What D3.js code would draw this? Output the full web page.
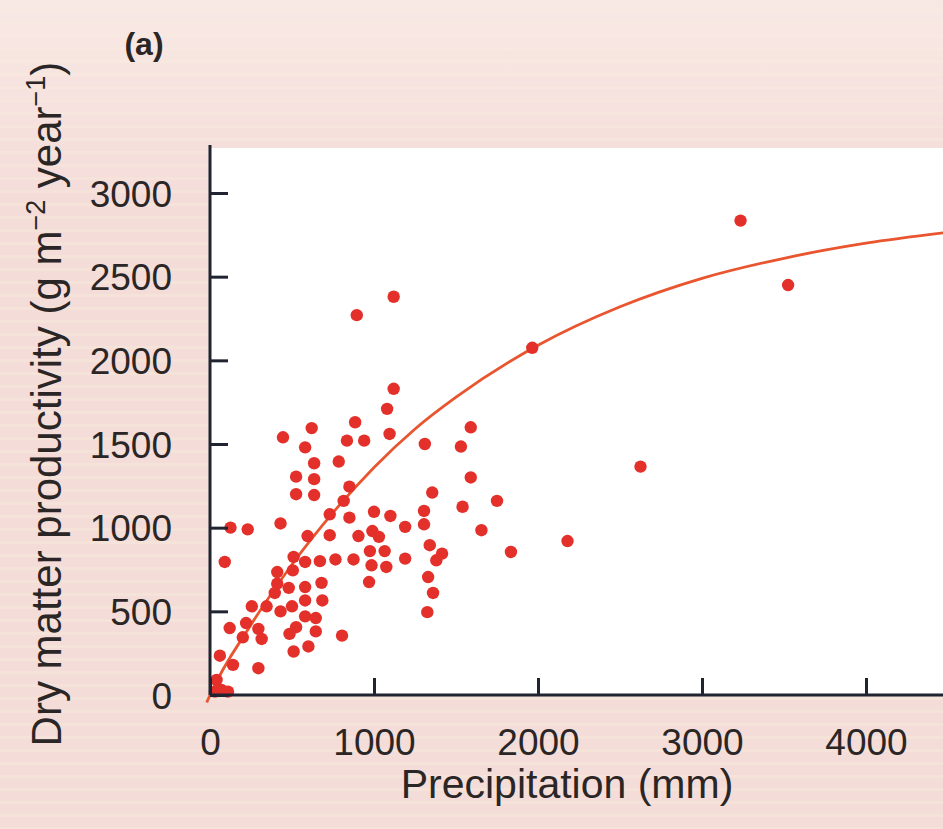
<!DOCTYPE html>
<html>
<head>
<meta charset="utf-8">
<script src="https://cdn.jsdelivr.net/npm/d3@7"></script>
<style>
  body { margin: 0; background: #f5dedb; }
  svg { display: block; }
  text { font-family: "Liberation Sans", Arial, sans-serif; fill: #2b2626; }
</style>
</head>
<body>
<div id="chart"></div>
<script>
// Width and height
var w = 943;
var h = 829;

// data
var precipitation = [1120, 1080, 620, 445, 885, 835, 940, 1095, 1310, 580, 635, 785, 525, 635, 525, 635, 850, 815, 1355,
    125, 230, 430, 730, 850, 1000, 1100, 1190, 1305, 1305, 595, 730, 905, 990, 1030, 1340, 1415, 1380,
    90, 510, 580, 670, 765, 875, 975, 1065, 1190, 985, 1075, 505, 410, 1330, 970, 1360, 1325,
    410, 480, 580, 680, 395, 580, 685, 255, 345, 430, 500, 580, 645, 220, 120, 295, 315, 200,
    485, 525, 645, 805, 510, 600, 60, 140, 295, 40, 70, 110, 30,
    1590, 1530, 1590, 1540, 1750, 1655, 1835, 2180, 2625, 895, 1120, 1965, 3235, 3525];
var productivity = [1830, 1710, 1595, 1540, 1630, 1520, 1520, 1560, 1500, 1480, 1385, 1395, 1305, 1290, 1200, 1195, 1245, 1160, 1210,
    1000, 990, 1025, 1080, 1060, 1095, 1070, 1005, 1100, 1020, 950, 955, 950, 980, 945, 895, 845, 805,
    795, 825, 795, 800, 810, 810, 860, 860, 815, 775, 765, 745, 735, 705, 675, 610, 495,
    665, 640, 645, 670, 610, 565, 565, 530, 530, 500, 530, 470, 460, 430, 400, 395, 335, 345,
    365, 405, 380, 355, 260, 290, 235, 180, 160, 90, 30, 20, 20,
    1600, 1485, 1300, 1125, 1160, 985, 855, 920, 1365, 2270, 2380, 2075, 2835, 2450];

// fitted curve, read at a few places
var curvePrecip = [-20, 0, 250, 500, 750, 1000, 1250, 1500, 2000, 2500, 3000, 3500, 4000, 4500];
var curveProd = [-45, 0, 420, 780, 1090, 1360, 1590, 1780, 2090, 2320, 2490, 2610, 2700, 2765];

var xTicks = [0, 1000, 2000, 3000, 4000];
var yTicks = [0, 500, 1000, 1500, 2000, 2500, 3000];

var x = d3.scaleLinear().domain([0, 4000]).range([210, 866]);
var y = d3.scaleLinear().domain([0, 3000]).range([695, 193]);

var svg = d3.select("#chart")
            .append("svg")
            .attr("width", w)
            .attr("height", h);

var defs = svg.append("defs");

// scanned paper stripes
var pat = defs.append("pattern")
    .attr("id", "stripes")
    .attr("patternUnits", "userSpaceOnUse")
    .attr("width", 40).attr("height", 13);
pat.append("rect").attr("width", 40).attr("height", 13).attr("fill", "#f4dcd9");
pat.append("rect").attr("y", 8).attr("width", 40).attr("height", 3).attr("fill", "#f5e2d9");

var grad = defs.append("linearGradient")
    .attr("id", "topfade")
    .attr("x1", 0).attr("y1", 0).attr("x2", 0).attr("y2", 1);
grad.append("stop").attr("offset", 0).attr("stop-color", "#faeee8").attr("stop-opacity", 0.7);
grad.append("stop").attr("offset", 1).attr("stop-color", "#faeee8").attr("stop-opacity", 0);

svg.append("rect").attr("width", w).attr("height", h).attr("fill", "url(#stripes)");
svg.append("rect").attr("width", w).attr("height", 200).attr("fill", "url(#topfade)");

// white plot area
svg.append("rect")
   .attr("x", x(0))
   .attr("y", 148)
   .attr("width", w - x(0))
   .attr("height", y(0) - 148)
   .attr("fill", "#ffffff");

// curve
var line = d3.line()
    .x(function (d) { return x(d[0]); })
    .y(function (d) { return y(d[1]); })
    .curve(d3.curveMonotoneX);

svg.append("path")
   .datum(d3.zip(curvePrecip, curveProd))
   .attr("d", line)
   .attr("fill", "none")
   .attr("stroke", "#e8552f")
   .attr("stroke-width", 2.8);

// points
svg.selectAll("circle.pt")
   .data(d3.zip(precipitation, productivity))
   .enter()
   .append("circle")
   .attr("class", "pt")
   .attr("cx", function (d) { return x(d[0]); })
   .attr("cy", function (d) { return y(d[1]); })
   .attr("r", 6.2)
   .attr("fill", "#e3302a");

// axes
var fmt = d3.format("d");
var xAxis = d3.axisBottom(x).tickValues(xTicks).tickFormat(fmt).tickSizeInner(-17).tickSizeOuter(0).tickPadding(34);
var yAxis = d3.axisLeft(y).tickValues(yTicks).tickFormat(fmt).tickSizeInner(-18).tickSizeOuter(0).tickPadding(38);

var gx = svg.append("g").attr("transform", "translate(0," + y(0) + ")").call(xAxis);
var gy = svg.append("g").attr("transform", "translate(" + x(0) + ",0)").call(yAxis);

gx.select(".domain").attr("d", "M" + x(0) + ",0H" + w);
gy.select(".domain").attr("d", "M0," + 145 + "V" + y(0));

[gx, gy].forEach(function (g) {
    g.select(".domain").attr("stroke", "#1f2430").attr("stroke-width", 3);
    g.selectAll(".tick line").attr("stroke", "#1f2430").attr("stroke-width", 3);
    g.selectAll(".tick text")
     .attr("font-family", "Liberation Sans, Arial, sans-serif")
     .attr("font-size", 37)
     .attr("fill", "#2b2626");
});
gy.selectAll(".tick text").attr("dy", "0.36em");

// axis titles
svg.append("text")
   .attr("x", 567)
   .attr("y", 798)
   .attr("text-anchor", "middle")
   .attr("font-size", 41)
   .text("Precipitation (mm)");

var yt = svg.append("text")
   .attr("transform", "translate(61,404) rotate(-90)")
   .attr("text-anchor", "middle")
   .attr("font-size", 42);
yt.append("tspan").text("Dry matter productivity (g m");
yt.append("tspan").attr("font-size", 27).attr("dy", -16).text("\u22122");
yt.append("tspan").attr("dy", 16).text(" year");
yt.append("tspan").attr("font-size", 27).attr("dy", -16).text("\u22121");
yt.append("tspan").attr("dy", 16).text(")");

// panel label
svg.append("text")
   .attr("x", 144)
   .attr("y", 55)
   .attr("text-anchor", "middle")
   .attr("font-size", 32)
   .attr("font-weight", "bold")
   .text("(a)");
</script>
</body>
</html>
